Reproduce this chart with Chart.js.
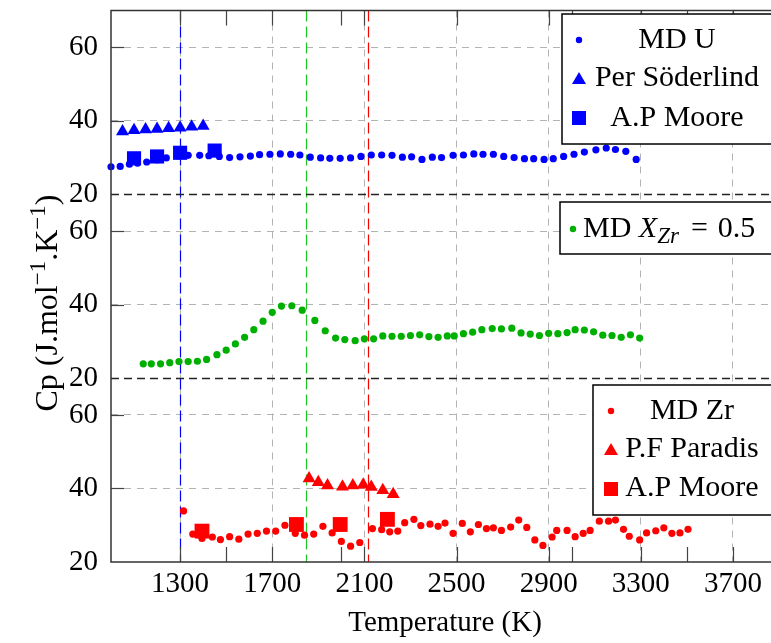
<!DOCTYPE html>
<html>
<head>
<meta charset="utf-8">
<title>Cp vs temperature</title>
<script src="https://cdn.jsdelivr.net/npm/chart.js@4.4.1/dist/chart.umd.min.js"></script>
<style>
    html, body { margin: 0; padding: 0; background: #fff; overflow: hidden; }
    #wrap { width: 771px; height: 643px; overflow: hidden; }
</style>
</head>
<body>
<div id="wrap"><canvas id="cpChart" width="800" height="643"></canvas></div>
<script>
// Ticks
const tempTicks = [1300, 1700, 2100, 2500, 2900, 3300, 3700];
const tempTickMarks = [1300, 1500, 1700, 2000, 2100, 2500, 2900, 3000, 3300, 3500, 3700];
const cpTicks = [20, 40, 60];
// Vertical dashed lines (U, U-Zr, Zr)
const meltTemps = [1300, 1845, 2115];

// Panel U
const mdUTemp = [1000, 1040, 1080, 1115, 1155, 1200, 1240, 1290, 1335, 1385, 1425, 1470, 1515, 1560, 1605, 1645, 1690, 1735, 1780, 1820, 1865, 1910, 1950, 1995, 2040, 2085, 2130, 2175, 2220, 2265, 2305, 2350, 2395, 2435, 2485, 2530, 2575, 2615, 2660, 2705, 2750, 2795, 2835, 2880, 2920, 2965, 3010, 3055, 3105, 3150, 3190, 3235, 3280];
const mdUCp = [27.5, 27.6, 28.2, 28.5, 28.8, 29.4, 29.9, 30.5, 30.6, 30.6, 30.5, 30.3, 30.0, 30.2, 30.4, 30.8, 30.9, 31.0, 30.9, 30.7, 30.1, 29.9, 29.8, 29.8, 29.9, 30.3, 30.7, 30.7, 30.6, 30.1, 30.2, 29.5, 30.1, 30.0, 30.6, 30.7, 31.0, 30.9, 30.9, 30.3, 30.0, 29.7, 29.7, 29.5, 29.7, 30.3, 30.9, 31.5, 32.1, 32.6, 32.2, 31.7, 29.5];
const soderlindTemp = [1050, 1100, 1150, 1200, 1250, 1300, 1350, 1400];
const soderlindCp = [37.1, 37.4, 37.6, 37.8, 38.0, 38.1, 38.4, 38.6];
const mooreUTemp = [1100, 1200, 1300, 1450];
const mooreUCp = [29.8, 30.3, 31.3, 31.9];

// Panel X_Zr = 0.5
const mdMixTemp = [1140, 1175, 1215, 1255, 1295, 1335, 1375, 1415, 1460, 1500, 1540, 1580, 1620, 1660, 1700, 1740, 1785, 1830, 1885, 1930, 1975, 2015, 2060, 2100, 2140, 2180, 2220, 2260, 2300, 2340, 2380, 2420, 2460, 2490, 2530, 2570, 2610, 2655, 2695, 2740, 2780, 2820, 2860, 2900, 2940, 2980, 3015, 3055, 3095, 3135, 3175, 3215, 3255, 3295];
const mdMixCp = [23.9, 23.9, 23.9, 24.2, 24.5, 24.5, 24.6, 25.1, 26.4, 27.6, 29.3, 31.1, 33.2, 35.5, 37.9, 39.6, 39.7, 38.5, 35.7, 32.9, 30.9, 30.5, 30.2, 30.7, 30.7, 31.5, 31.4, 31.4, 31.6, 31.8, 31.3, 31.1, 31.5, 31.5, 32.1, 32.5, 33.2, 33.5, 33.4, 33.6, 32.3, 32.0, 31.6, 32.2, 32.1, 32.4, 33.2, 33.1, 32.6, 31.7, 31.6, 31.1, 31.8, 30.9];

// Panel Zr
const mdZrTemp = [1315, 1355, 1395, 1440, 1475, 1515, 1555, 1595, 1635, 1675, 1715, 1755, 1800, 1840, 1880, 1920, 1960, 2000, 2040, 2080, 2135, 2175, 2210, 2245, 2275, 2315, 2345, 2385, 2420, 2450, 2485, 2525, 2560, 2595, 2630, 2660, 2695, 2735, 2770, 2805, 2840, 2875, 2915, 2935, 2980, 3015, 3050, 3080, 3120, 3160, 3190, 3225, 3250, 3295, 3325, 3365, 3400, 3435, 3470, 3505];
const mdZrCp = [33.9, 27.6, 26.4, 26.8, 26.1, 26.9, 26.2, 27.6, 27.8, 28.4, 28.4, 30.0, 27.8, 27.3, 27.6, 29.7, 27.9, 25.6, 24.3, 25.3, 29.1, 28.8, 28.2, 28.4, 30.7, 31.6, 29.9, 30.3, 29.7, 30.6, 27.8, 30.5, 28.2, 30.2, 29.1, 29.3, 28.6, 29.5, 31.4, 29.4, 26.0, 24.5, 26.8, 28.6, 28.6, 26.9, 27.8, 28.6, 31.1, 31.1, 31.4, 28.9, 27.0, 26.0, 27.9, 28.5, 29.3, 27.8, 27.9, 28.9];
const paradisTemp = [1860, 1900, 1940, 2005, 2050, 2095, 2130, 2180, 2225];
const paradisCp = [42.7, 41.7, 40.8, 40.5, 40.8, 41.0, 40.4, 39.5, 38.4];
const mooreZrTemp = [1395, 1805, 1995, 2200];
const mooreZrCp = [28.4, 30.2, 30.2, 31.6];

const SERIF = '"Liberation Serif", "DejaVu Serif", serif';
const FONT_SIZE = 29;
const BLUE = '#0000ff';
const GREEN = '#00b000';
const RED = '#ff0000';
const GRID = '#b3b3b3';

const pts = (xs, ys) => xs.map((x, i) => ({ x: x, y: ys[i] }));

// squares first so they are drawn on top of the MD points
const serie = (label, xs, ys, axis, color, style, radius) => ({
    label: label,
    data: pts(xs, ys),
    yAxisID: axis,
    pointStyle: style,
    pointRadius: radius,
    pointHoverRadius: radius,
    borderWidth: 0,
    backgroundColor: color,
    borderColor: color,
    clip: false
});

const datasets = [
    serie('A.P Moore', mooreUTemp, mooreUCp, 'yU', BLUE, 'rect', 10),
    serie('A.P Moore', mooreZrTemp, mooreZrCp, 'yZr', RED, 'rect', 10.5),
    serie('Per Söderlind', soderlindTemp, soderlindCp, 'yU', BLUE, 'triangle', 7.5),
    serie('P.F Paradis', paradisTemp, paradisCp, 'yZr', RED, 'triangle', 7.5),
    serie('MD U', mdUTemp, mdUCp, 'yU', BLUE, 'circle', 3.6),
    serie('MD X_Zr = 0.5', mdMixTemp, mdMixCp, 'yMix', GREEN, 'circle', 3.6),
    serie('MD Zr', mdZrTemp, mdZrCp, 'yZr', RED, 'circle', 3.6)
];

const yScale = () => ({
    type: 'linear',
    position: 'left',
    stack: 'cp',
    stackWeight: 1,
    min: 20,
    max: 70,
    afterBuildTicks: s => { s.ticks = cpTicks.map(v => ({ value: v })); },
    afterFit: s => { s.width = 111; s.paddingTop = 0; s.paddingBottom = 0; },
    ticks: { font: { family: SERIF, size: FONT_SIZE }, color: '#000', padding: 13, callback: v => String(v) },
    grid: { drawTicks: false, lineWidth: 1, color: c => (c.tick && c.tick.value === 20) ? 'rgba(0,0,0,0)' : GRID },
    border: { display: false, dash: [7, 6] }
});

// Text with sub/superscripts
const drawRuns = (ctx, parts, x, y, align) => {
    let w = 0;
    parts.forEach(p => { ctx.font = p.font; w += ctx.measureText(p.t).width + (p.gap || 0); });
    let cx = align === 'center' ? x - w / 2 : (align === 'right' ? x - w : x);
    parts.forEach(p => {
        ctx.font = p.font;
        ctx.fillText(p.t, cx, y + (p.dy || 0));
        cx += ctx.measureText(p.t).width + (p.gap || 0);
    });
};

const drawMark = (ctx, style, x, y, color) => {
    ctx.fillStyle = color;
    ctx.beginPath();
    if (style === 'circle') {
        ctx.arc(x, y, 3.2, 0, Math.PI * 2);
    } else if (style === 'triangle') {
        ctx.moveTo(x, y - 7);
        ctx.lineTo(x + 7, y + 5);
        ctx.lineTo(x - 7, y + 5);
        ctx.closePath();
    } else {
        ctx.rect(x - 7, y - 7, 14, 14);
    }
    ctx.fill();
};

const cpDecor = {
    id: 'cpDecor',
    beforeDatasetsDraw(chart) {
        const { ctx, chartArea: a, scales } = chart;
        ctx.save();
        // vertical dashed lines
        const lineColors = [BLUE, '#22c322', RED];
        meltTemps.forEach((t, i) => {
            const x = Math.round(scales.x.getPixelForValue(t)) + 0.5;
            ctx.strokeStyle = lineColors[i];
            ctx.lineWidth = 1.2;
            ctx.setLineDash([11, 5]);
            ctx.beginPath();
            ctx.moveTo(x, a.top);
            ctx.lineTo(x, a.bottom);
            ctx.stroke();
        });
        // panel separators
        ctx.strokeStyle = '#222';
        ctx.lineWidth = 1.3;
        ctx.setLineDash([8, 5]);
        ['yU', 'yMix'].forEach(id => {
            const y = Math.round(scales[id].getPixelForValue(20)) + 0.5;
            ctx.beginPath();
            ctx.moveTo(a.left, y);
            ctx.lineTo(a.right, y);
            ctx.stroke();
        });
        ctx.restore();
    },
    afterDatasetsDraw(chart) {
        const { ctx, chartArea: a, scales } = chart;
        ctx.save();
        ctx.setLineDash([]);
        // tick marks pointing inwards
        ctx.strokeStyle = '#444';
        ctx.lineWidth = 1.2;
        tempTickMarks.forEach(t => {
            const x = Math.round(scales.x.getPixelForValue(t)) + 0.5;
            ctx.beginPath();
            ctx.moveTo(x, a.bottom);
            ctx.lineTo(x, a.bottom - 15);
            ctx.moveTo(x, a.top);
            ctx.lineTo(x, a.top + 15);
            ctx.stroke();
        });
        ['yU', 'yMix', 'yZr'].forEach(id => {
            cpTicks.slice(1).forEach(v => {
                const y = Math.round(scales[id].getPixelForValue(v)) + 0.5;
                ctx.beginPath();
                ctx.moveTo(a.left, y);
                ctx.lineTo(a.left + 13, y);
                ctx.stroke();
            });
        });
        // frame
        ctx.strokeStyle = '#333';
        ctx.lineWidth = 1.5;
        ctx.strokeRect(a.left, a.top, a.right - a.left, a.bottom - a.top);

        // y title
        const big = '32px ' + SERIF;
        const small = '23px ' + SERIF;
        ctx.fillStyle = '#000';
        ctx.textAlign = 'left';
        ctx.textBaseline = 'alphabetic';
        ctx.save();
        ctx.translate(57, 303);
        ctx.rotate(-Math.PI / 2);
        drawRuns(ctx, [
            { t: 'Cp (J.mol', font: big },
            { t: '\u22121', font: small, dy: -12 },
            { t: '.K', font: big },
            { t: '\u22121', font: small, dy: -12 },
            { t: ')', font: big }
        ], 0, 0, 'center');
        ctx.restore();
        ctx.restore();
    },
    afterDraw(chart) {
        const { ctx } = chart;
        const big = '30px ' + SERIF;
        const ital = 'italic 30px ' + SERIF;
        const subIt = 'italic 23px ' + SERIF;
        ctx.save();
        ctx.textAlign = 'left';
        ctx.textBaseline = 'alphabetic';
        const box = (x, y, w, h) => {
            ctx.fillStyle = '#fff';
            ctx.fillRect(x, y, w, h);
            ctx.strokeStyle = '#000';
            ctx.lineWidth = 1.5;
            ctx.strokeRect(x, y, w, h);
        };
        // U legend
        box(562, 14, 220, 130);
        [['circle', datasets[4].label, 40, 48], ['triangle', datasets[2].label, 79, 86], ['rect', datasets[0].label, 118, 126]]
            .forEach(r => {
                drawMark(ctx, r[0], 579, r[2], BLUE);
                ctx.fillStyle = '#000';
                drawRuns(ctx, [{ t: r[1], font: big }], 677, r[3], 'center');
            });
        // mix legend
        box(560, 202, 220, 52);
        drawMark(ctx, 'circle', 573, 229, GREEN);
        ctx.fillStyle = '#000';
        drawRuns(ctx, [
            { t: 'MD ', font: big },
            { t: 'X', font: ital },
            { t: 'Zr', font: subIt, dy: 6, gap: 12 },
            { t: '=', font: big, gap: 10 },
            { t: '0.5', font: big }
        ], 583, 237, 'left');
        // Zr legend
        box(593, 385, 190, 130);
        [['circle', datasets[6].label, 411, 419], ['triangle', datasets[3].label, 450, 457], ['rect', datasets[1].label, 489, 496]]
            .forEach(r => {
                drawMark(ctx, r[0], 611, r[2], RED);
                ctx.fillStyle = '#000';
                drawRuns(ctx, [{ t: r[1], font: big }], 692, r[3], 'center');
            });
        ctx.restore();
    }
};

new Chart(document.getElementById('cpChart'), {
    type: 'scatter',
    data: { datasets: datasets },
    options: {
        responsive: false,
        animation: false,
        devicePixelRatio: 1,
        layout: { padding: { left: 0, top: 7, right: 21, bottom: 0 } },
        plugins: { legend: { display: false }, tooltip: { enabled: false } },
        scales: {
            x: {
                type: 'linear',
                min: 1000,
                max: 3900,
                afterBuildTicks: s => { s.ticks = tempTicks.map(v => ({ value: v })); },
                afterFit: s => { s.height = 81; s.paddingLeft = 0; s.paddingRight = 0; },
                ticks: { font: { family: SERIF, size: FONT_SIZE }, color: '#000', padding: 5, maxRotation: 0, autoSkip: false, callback: v => String(v) },
                title: { display: true, text: 'Temperature (K)', font: { family: SERIF, size: FONT_SIZE }, color: '#000', padding: { top: 0, bottom: 2 } },
                grid: { drawTicks: false, lineWidth: 1, color: GRID },
                border: { display: false, dash: [7, 6] }
            },
            yZr: yScale(),
            yMix: yScale(),
            yU: yScale()
        }
    },
    plugins: [cpDecor]
});
</script>
</body>
</html>
